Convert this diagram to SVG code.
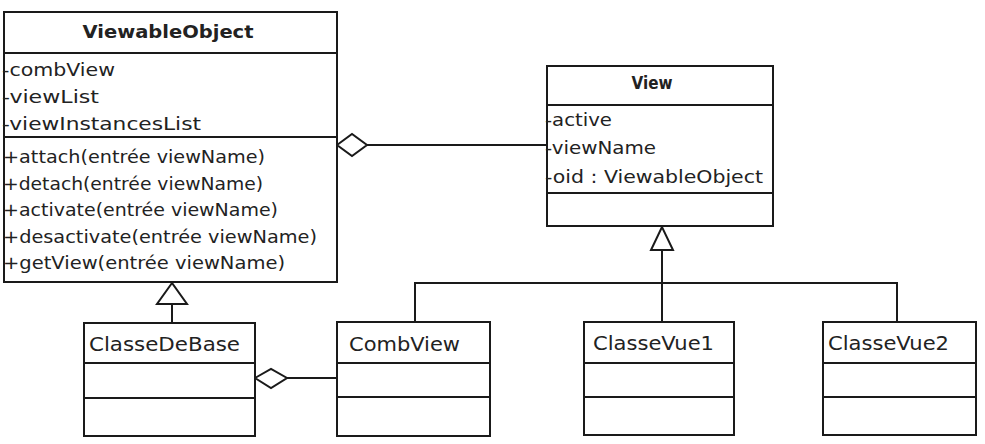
<svg xmlns="http://www.w3.org/2000/svg" width="985" height="444" viewBox="0 0 985 444">
<style>
.box{fill:#fff;stroke:#1a1a1a;stroke-width:2}
.sep{stroke:#1a1a1a;stroke-width:2}
.ln{fill:none;stroke:#1a1a1a;stroke-width:2}
.tri{fill:#fff;stroke:#1a1a1a;stroke-width:2;stroke-linejoin:miter}
.dia{fill:#fff;stroke:#1a1a1a;stroke-width:2}
text{font-family:"DejaVu Sans",Verdana,sans-serif;fill:#222;font-size:18px}
.title{font-weight:bold;font-size:18px;text-anchor:middle}
.cls{font-size:20px}
</style>
<rect width="985" height="444" fill="#fff"/>
<g id="connectors">
  <!-- ViewableObject aggregation View -->
  <line class="ln" x1="367" y1="145" x2="547" y2="145"/>
  <polygon class="dia" points="337,145 352,134 367,145 352,156"/>
  <!-- ClasseDeBase aggregation CombView -->
  <line class="ln" x1="287" y1="378" x2="337" y2="378"/>
  <polygon class="dia" points="255,378 271,369 287,378 271,388"/>
  <!-- ClasseDeBase generalization ViewableObject -->
  <line class="ln" x1="172" y1="304" x2="172" y2="323"/>
  <polygon class="tri" points="172,283 157,304 187,304"/>
  <!-- View generalization tree -->
  <line class="ln" x1="662" y1="250" x2="662" y2="322"/>
  <polyline class="ln" points="415,322 415,283 897,283 897,322"/>
  <polygon class="tri" points="662,227 651,250 673,250"/>
</g>
<g id="ViewableObject">
  <rect class="box" x="4" y="12" width="333" height="270"/>
  <line class="sep" x1="4" y1="53" x2="337" y2="53"/>
  <line class="sep" x1="4" y1="137" x2="337" y2="137"/>
  <text class="title" x="168" y="38" textLength="171" lengthAdjust="spacingAndGlyphs">ViewableObject</text>
  <text x="2" y="76" textLength="113" lengthAdjust="spacingAndGlyphs">-combView</text>
  <text x="2" y="103" textLength="97" lengthAdjust="spacingAndGlyphs">-viewList</text>
  <text x="2" y="130" textLength="199" lengthAdjust="spacingAndGlyphs">-viewInstancesList</text>
  <text x="3" y="163" textLength="262" lengthAdjust="spacingAndGlyphs">+attach(entrée viewName)</text>
  <text x="3" y="190" textLength="260" lengthAdjust="spacingAndGlyphs">+detach(entrée viewName)</text>
  <text x="3" y="216" textLength="275" lengthAdjust="spacingAndGlyphs">+activate(entrée viewName)</text>
  <text x="3" y="243" textLength="314" lengthAdjust="spacingAndGlyphs">+desactivate(entrée viewName)</text>
  <text x="3" y="269" textLength="282" lengthAdjust="spacingAndGlyphs">+getView(entrée viewName)</text>
</g>
<g id="View">
  <rect class="box" x="547" y="66" width="226" height="160"/>
  <line class="sep" x1="547" y1="105" x2="773" y2="105"/>
  <line class="sep" x1="547" y1="193" x2="773" y2="193"/>
  <text class="title" x="652" y="89" textLength="41" lengthAdjust="spacingAndGlyphs">View</text>
  <text x="545" y="126" textLength="67" lengthAdjust="spacingAndGlyphs">-active</text>
  <text x="545" y="154" textLength="111" lengthAdjust="spacingAndGlyphs">-viewName</text>
  <text x="545" y="183" textLength="218" lengthAdjust="spacingAndGlyphs">-oid : ViewableObject</text>
</g>
<g id="ClasseDeBase">
  <rect class="box" x="84" y="323" width="171" height="113"/>
  <line class="sep" x1="84" y1="363" x2="255" y2="363"/>
  <line class="sep" x1="84" y1="398" x2="255" y2="398"/>
  <text class="cls" x="89" y="351" textLength="151" lengthAdjust="spacingAndGlyphs">ClasseDeBase</text>
</g>
<g id="CombView">
  <rect class="box" x="337" y="322" width="153" height="114"/>
  <line class="sep" x1="337" y1="363" x2="490" y2="363"/>
  <line class="sep" x1="337" y1="397" x2="490" y2="397"/>
  <text class="cls" x="349" y="351" textLength="111" lengthAdjust="spacingAndGlyphs">CombView</text>
</g>
<g id="ClasseVue1">
  <rect class="box" x="584" y="322" width="150" height="113"/>
  <line class="sep" x1="584" y1="363" x2="734" y2="363"/>
  <line class="sep" x1="584" y1="397" x2="734" y2="397"/>
  <text class="cls" x="593" y="350" textLength="121" lengthAdjust="spacingAndGlyphs">ClasseVue1</text>
</g>
<g id="ClasseVue2">
  <rect class="box" x="823" y="322" width="153" height="113"/>
  <line class="sep" x1="823" y1="363" x2="976" y2="363"/>
  <line class="sep" x1="823" y1="397" x2="976" y2="397"/>
  <text class="cls" x="828" y="350" textLength="121" lengthAdjust="spacingAndGlyphs">ClasseVue2</text>
</g>
</svg>
